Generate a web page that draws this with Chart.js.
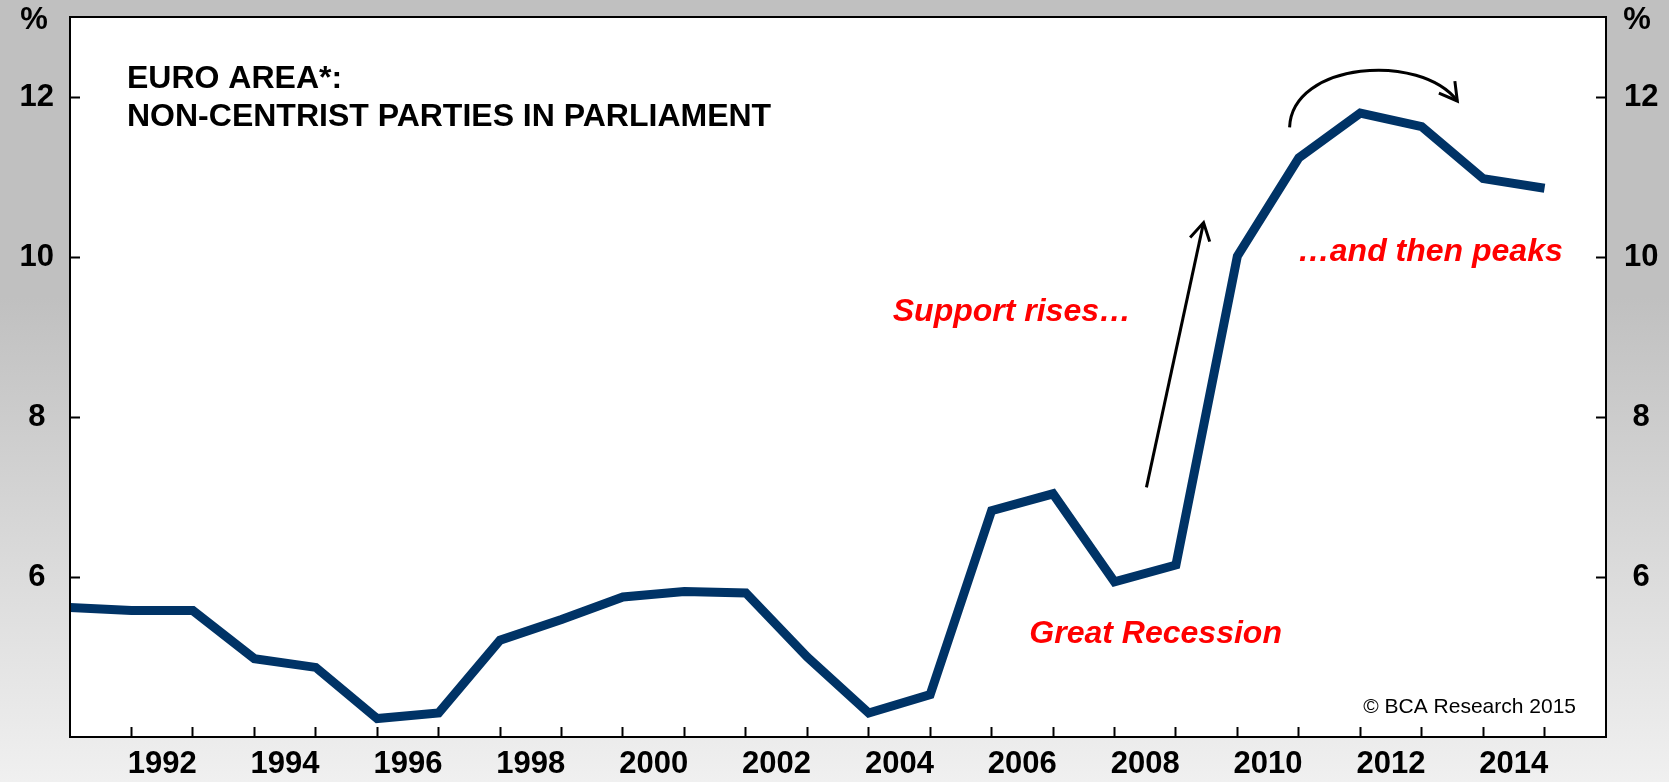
<!DOCTYPE html>
<html>
<head>
<meta charset="utf-8">
<script src="https://cdn.jsdelivr.net/npm/chart.js@4.4.1/dist/chart.umd.min.js"></script>
<style>
  html, body { margin: 0; padding: 0; background: #c0c0c0; }
  #wrap { width: 1669px; height: 782px; }
</style>
</head>
<body>
<div id="wrap"><canvas id="chart" width="1669" height="782"></canvas></div>
<script>
// euro area: share of non-centrist parties in parliament, %
const years = [1991, 1992, 1993, 1994, 1995, 1996, 1997, 1998, 1999, 2000,
               2001, 2002, 2003, 2004, 2005, 2006, 2007, 2008, 2009, 2010,
               2011, 2012, 2013, 2014, 2015];
const shares = [5.62, 5.58, 5.58, 4.98, 4.87, 4.23, 4.30, 5.21, 5.47, 5.75,
                5.82, 5.80, 5.00, 4.30, 4.53, 6.83, 7.04, 5.94, 6.15, 10.01,
                11.24, 11.80, 11.63, 10.98, 10.86];

// axis ticks
const yTicks = [6, 8, 10, 12];
const xTickYears = [1992, 1993, 1994, 1995, 1996, 1997, 1998, 1999, 2000, 2001,
                    2002, 2003, 2004, 2005, 2006, 2007, 2008, 2009, 2010, 2011,
                    2012, 2013, 2014, 2015];
const xLabelYears = [1992, 1994, 1996, 1998, 2000, 2002, 2004, 2006, 2008, 2010, 2012, 2014];

const titleLines = ['EURO AREA*:', 'NON-CENTRIST PARTIES IN PARLIAMENT'];
const notes = [
  { text: 'Support rises\u2026', x: 2006.33, y: 9.20 },
  { text: '\u2026and then peaks', x: 2013.14, y: 9.95 },
  { text: 'Great Recession', x: 2008.67, y: 5.17 }
];
const credit = '\u00A9 BCA Research 2015';

const FONT = '"Liberation Sans", Arial, Helvetica, sans-serif';

function arrowHead(ctx, tipX, tipY, fromX, fromY, len, ang) {
  const a = Math.atan2(tipY - fromY, tipX - fromX);
  ctx.beginPath();
  ctx.moveTo(tipX - len * Math.cos(a - ang), tipY - len * Math.sin(a - ang));
  ctx.lineTo(tipX, tipY);
  ctx.lineTo(tipX - len * Math.cos(a + ang), tipY - len * Math.sin(a + ang));
  ctx.stroke();
}

const decorations = {
  id: 'decorations',
  beforeDraw(chart) {
    const { ctx, chartArea: a, width, height } = chart;
    const g = ctx.createLinearGradient(0, 0, 0, height);
    g.addColorStop(0, '#c0c0c0');
    g.addColorStop(0.38, '#c0c0c0');
    g.addColorStop(1, '#f0f0f0');
    ctx.save();
    ctx.fillStyle = g;
    ctx.fillRect(0, 0, width, height);
    ctx.fillStyle = '#ffffff';
    ctx.fillRect(a.left, a.top, a.right - a.left, a.bottom - a.top);
    ctx.restore();
  },
  afterDraw(chart) {
    const { ctx, chartArea: a, scales } = chart;
    const X = v => scales.x.getPixelForValue(v);
    const Y = v => scales.y.getPixelForValue(v);
    ctx.save();

    // frame
    ctx.strokeStyle = '#000';
    ctx.lineWidth = 2;
    ctx.strokeRect(a.left, a.top, a.right - a.left, a.bottom - a.top);

    // % units above both axes
    ctx.fillStyle = '#000';
    ctx.font = 'bold 31px ' + FONT;
    ctx.textAlign = 'center';
    ctx.textBaseline = 'middle';
    ctx.fillText('%', 34, 20);
    ctx.fillText('%', 1637, 20);

    // title
    ctx.font = 'bold 32px ' + FONT;
    ctx.textAlign = 'left';
    ctx.textBaseline = 'alphabetic';
    ctx.fillText(titleLines[0], a.left + 57, a.top + 71);
    ctx.fillText(titleLines[1], a.left + 57, a.top + 109);

    // red notes
    ctx.fillStyle = '#ff0000';
    ctx.font = 'italic bold 32px ' + FONT;
    ctx.textAlign = 'center';
    notes.forEach(n => ctx.fillText(n.text, X(n.x), Y(n.y)));

    // credit
    ctx.fillStyle = '#000';
    ctx.font = '21px ' + FONT;
    ctx.textAlign = 'right';
    ctx.fillText(credit, a.right - 30, a.bottom - 24);

    // straight arrow
    ctx.strokeStyle = '#000';
    ctx.lineWidth = 3;
    ctx.lineCap = 'butt';
    const t0 = [X(2008.52), Y(7.12)], t1 = [X(2009.45), Y(10.43)];
    ctx.beginPath();
    ctx.moveTo(t0[0], t0[1]);
    ctx.lineTo(t1[0], t1[1]);
    ctx.stroke();
    arrowHead(ctx, t1[0], t1[1], t0[0], t0[1], 20, Math.PI / 6);

    // curved arrow over the peak
    const p0 = [X(2010.85), Y(11.62)], c1 = [X(2010.89), Y(12.44)],
          c2 = [X(2012.98), Y(12.56)], p3 = [X(2013.58), Y(11.95)];
    ctx.beginPath();
    ctx.moveTo(p0[0], p0[1]);
    ctx.bezierCurveTo(c1[0], c1[1], c2[0], c2[1], p3[0], p3[1]);
    ctx.stroke();
    arrowHead(ctx, p3[0], p3[1], c2[0], c2[1], 20, Math.PI / 6);

    ctx.restore();
  }
};

const tickGrid = {
  display: true,
  drawOnChartArea: false,
  drawTicks: true,
  tickLength: -10,
  tickWidth: 2,
  tickColor: '#000'
};

function yAxis(position, pad, width) {
  return {
    type: 'linear',
    position: position,
    min: 4,
    max: 13,
    afterBuildTicks: s => { s.ticks = yTicks.map(v => ({ value: v })); },
    afterFit: s => {
      s.width = width;
      s.paddingTop = 0;
      s.paddingBottom = 0;
    },
    grid: tickGrid,
    border: { display: false },
    ticks: {
      color: '#000',
      padding: pad,
      crossAlign: 'center',
      font: { family: FONT, size: 31, weight: 'bold' }
    }
  };
}

window.addEventListener('load', function() {
  const ctx = document.getElementById('chart').getContext('2d');
  new Chart(ctx, {
    type: 'line',
    data: {
      datasets: [{
        data: years.map((yr, i) => ({ x: yr, y: shares[i] })),
        borderColor: '#003366',
        borderWidth: 9,
        borderJoinStyle: 'miter',
        borderCapStyle: 'butt',
        pointRadius: 0,
        tension: 0,
        fill: false
      }]
    },
    options: {
      responsive: false,
      animation: false,
      layout: { padding: { top: 17, left: 0, right: 0, bottom: 0 } },
      plugins: {
        legend: { display: false },
        tooltip: { enabled: false }
      },
      scales: {
        x: {
          type: 'linear',
          min: 1991,
          max: 2016,
          afterBuildTicks: s => { s.ticks = xTickYears.map(v => ({ value: v })); },
          afterFit: s => {
            s.height = 45;
            s.paddingLeft = 0;
            s.paddingRight = 0;
          },
          grid: tickGrid,
          border: { display: false },
          ticks: {
            color: '#000',
            autoSkip: false,
            maxRotation: 0,
            labelOffset: 30.7,
            padding: 19,
            font: { family: FONT, size: 31, weight: 'bold' },
            callback: v => xLabelYears.includes(v) ? String(v) : ''
          }
        },
        y: yAxis('left', 26, 70),
        y2: yAxis('right', 28, 63)
      }
    },
    plugins: [decorations]
  });
});
</script>
</body>
</html>
